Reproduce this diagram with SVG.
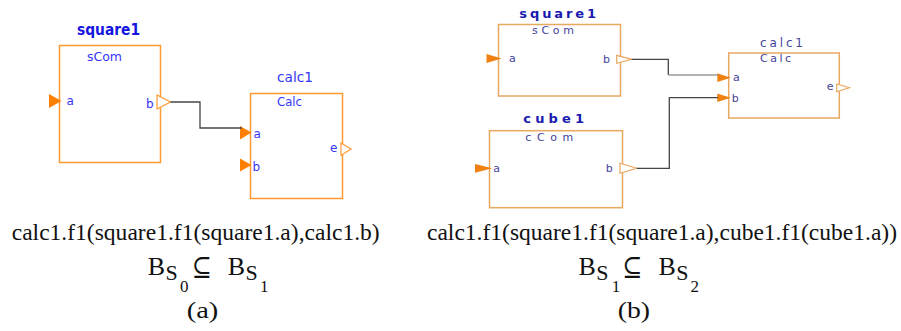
<svg xmlns="http://www.w3.org/2000/svg" width="901" height="331" viewBox="0 0 901 331">
<style>
.boxA{fill:#fff;stroke:#FF9A33;stroke-width:1.5}
.boxB{fill:#fff;stroke:#E8A860;stroke-width:1.5}
.inA{fill:#FF8000;stroke:none}
.outA{fill:#fff;stroke:#FF9A33;stroke-width:1.2}
.inB{fill:#F08010;stroke:none}
.outB{fill:#fff;stroke:#E8A860;stroke-width:1.2}
.ttlA{font-family:"DejaVu Sans",Verdana,sans-serif;font-weight:bold;font-size:15px;fill:#1515E0}
.ttlB{font-family:"DejaVu Sans",Verdana,sans-serif;font-weight:bold;font-size:13px;fill:#1A1AB0}
.lblA{font-family:"DejaVu Sans",Verdana,sans-serif;font-size:12px;fill:#3535F5}
.lblB{font-family:"DejaVu Sans",Verdana,sans-serif;font-size:11px;fill:#44449C}
.wire{fill:none;stroke:#454545;stroke-width:1.3}
.wireL{fill:none;stroke:#9A9A9A;stroke-width:1.5}
.cap{font-family:"Liberation Serif","Times New Roman",serif;fill:#111}
.sym{font-family:"DejaVu Serif","Liberation Serif",serif;fill:#111}
</style>
<g id="a-square1">
<rect class="boxA" x="59.5" y="45.5" width="101" height="117"/>
<text class="ttlA" x="77" y="35" textLength="63" lengthAdjust="spacingAndGlyphs">square1</text>
<text class="lblA" x="87" y="61" textLength="35" lengthAdjust="spacingAndGlyphs">sCom</text>
<polygon class="inA" points="49,94 49,108 61.5,101"/>
<text class="lblA" x="66.5" y="105">a</text>
<polygon class="outA" points="157,95 157,109 170.5,102"/>
<text class="lblA" x="146" y="107.5">b</text>
</g>
<g id="a-calc1">
<rect class="boxA" x="250.5" y="93.5" width="92" height="105"/>
<text class="lblA" x="277" y="82" style="font-size:14px" textLength="36" lengthAdjust="spacingAndGlyphs">calc1</text>
<text class="lblA" x="277" y="106" textLength="25" lengthAdjust="spacingAndGlyphs">Calc</text>
<polygon class="inA" points="240,126 240,139.5 251.5,132.5"/>
<text class="lblA" x="253.5" y="137.5">a</text>
<polygon class="inA" points="240,158.5 240,171.5 251.5,165"/>
<text class="lblA" x="252.5" y="170.5">b</text>
<polygon class="outA" points="341,143 341,155.5 351,149"/>
<text class="lblA" x="330" y="152">e</text>
</g>
<g id="b-square1">
<rect class="boxB" x="498.5" y="24.5" width="122" height="71.5"/>
<text class="ttlB" x="519.3" y="17.5" textLength="76.7" lengthAdjust="spacing">square1</text>
<text class="lblB" x="532" y="33.5" textLength="42" lengthAdjust="spacing">sCom</text>
<polygon class="inB" points="486.5,54 486.5,63 501.5,58.5"/>
<text class="lblB" x="509" y="61.5">a</text>
<polygon class="outB" points="616.7,55.3 616.7,63.3 631.7,59.3"/>
<text class="lblB" x="603" y="62.5">b</text>
</g>
<g id="b-cube1">
<rect class="boxB" x="489.5" y="130.7" width="133" height="77"/>
<text class="ttlB" x="523.3" y="123.3" textLength="60.7" lengthAdjust="spacing">cube1</text>
<text class="lblB" x="525.3" y="141" textLength="48" lengthAdjust="spacing">cCom</text>
<polygon class="inB" points="475,164 475,172.7 492.3,168.3"/>
<text class="lblB" x="493.3" y="171.5">a</text>
<polygon class="outB" points="620,163.3 620,173.3 636.7,168.3"/>
<text class="lblB" x="605.7" y="171.5">b</text>
</g>
<g id="b-calc1">
<rect class="boxB" x="728.7" y="53" width="110.6" height="65"/>
<text class="lblB" x="760" y="46.5" style="font-size:12px" textLength="43" lengthAdjust="spacing">calc1</text>
<text class="lblB" x="760" y="62" textLength="31" lengthAdjust="spacing">Calc</text>
<polygon class="inB" points="717.3,73.3 717.3,82 730.7,77.7"/>
<text class="lblB" x="733" y="81">a</text>
<polygon class="inB" points="717.3,93.5 717.3,102 730.7,97.7"/>
<text class="lblB" x="731.7" y="101.5">b</text>
<polygon class="outB" points="836.7,84 836.7,91.7 849.3,87.7"/>
<text class="lblB" x="826.7" y="90">e</text>
</g>
<g id="connectors">
<path class="wire" d="M170.5 102 H200 V128 H242"/>
<path class="wire" d="M631.7 59.3 H668.3 V75"/>
<path class="wireL" d="M668.3 75 H718"/>
<path class="wire" d="M636.7 168.3 H669.3 V97.7 H718"/>
</g>
<g id="captions">
<text class="cap" x="11.7" y="240" font-size="23" textLength="368" lengthAdjust="spacingAndGlyphs">calc1.f1(square1.f1(square1.a),calc1.b)</text>
<text class="cap" x="427" y="240" font-size="23" textLength="470" lengthAdjust="spacingAndGlyphs">calc1.f1(square1.f1(square1.a),cube1.f1(cube1.a))</text>
<text class="cap" x="147.7" y="275" font-size="26">B</text>
<text class="cap" x="165.5" y="280" font-size="22">S</text>
<text class="cap" x="180" y="292" font-size="17">0</text>
<text class="sym" x="191.7" y="276" font-size="27" textLength="20" lengthAdjust="spacingAndGlyphs">⊆</text>
<text class="cap" x="227.7" y="275" font-size="26">B</text>
<text class="cap" x="245.5" y="280" font-size="22">S</text>
<text class="cap" x="260" y="292" font-size="17">1</text>
<text class="cap" x="186.7" y="318" font-size="24" textLength="31.6" lengthAdjust="spacingAndGlyphs">(a)</text>
<text class="cap" x="578.5" y="275" font-size="26">B</text>
<text class="cap" x="596.3" y="280" font-size="22">S</text>
<text class="cap" x="611.7" y="292" font-size="17">1</text>
<text class="sym" x="622.3" y="276" font-size="27" textLength="20" lengthAdjust="spacingAndGlyphs">⊆</text>
<text class="cap" x="658.5" y="275" font-size="26">B</text>
<text class="cap" x="676.3" y="280" font-size="22">S</text>
<text class="cap" x="690.5" y="292" font-size="17">2</text>
<text class="cap" x="617.7" y="318" font-size="24" textLength="32.3" lengthAdjust="spacingAndGlyphs">(b)</text>
</g>
</svg>
